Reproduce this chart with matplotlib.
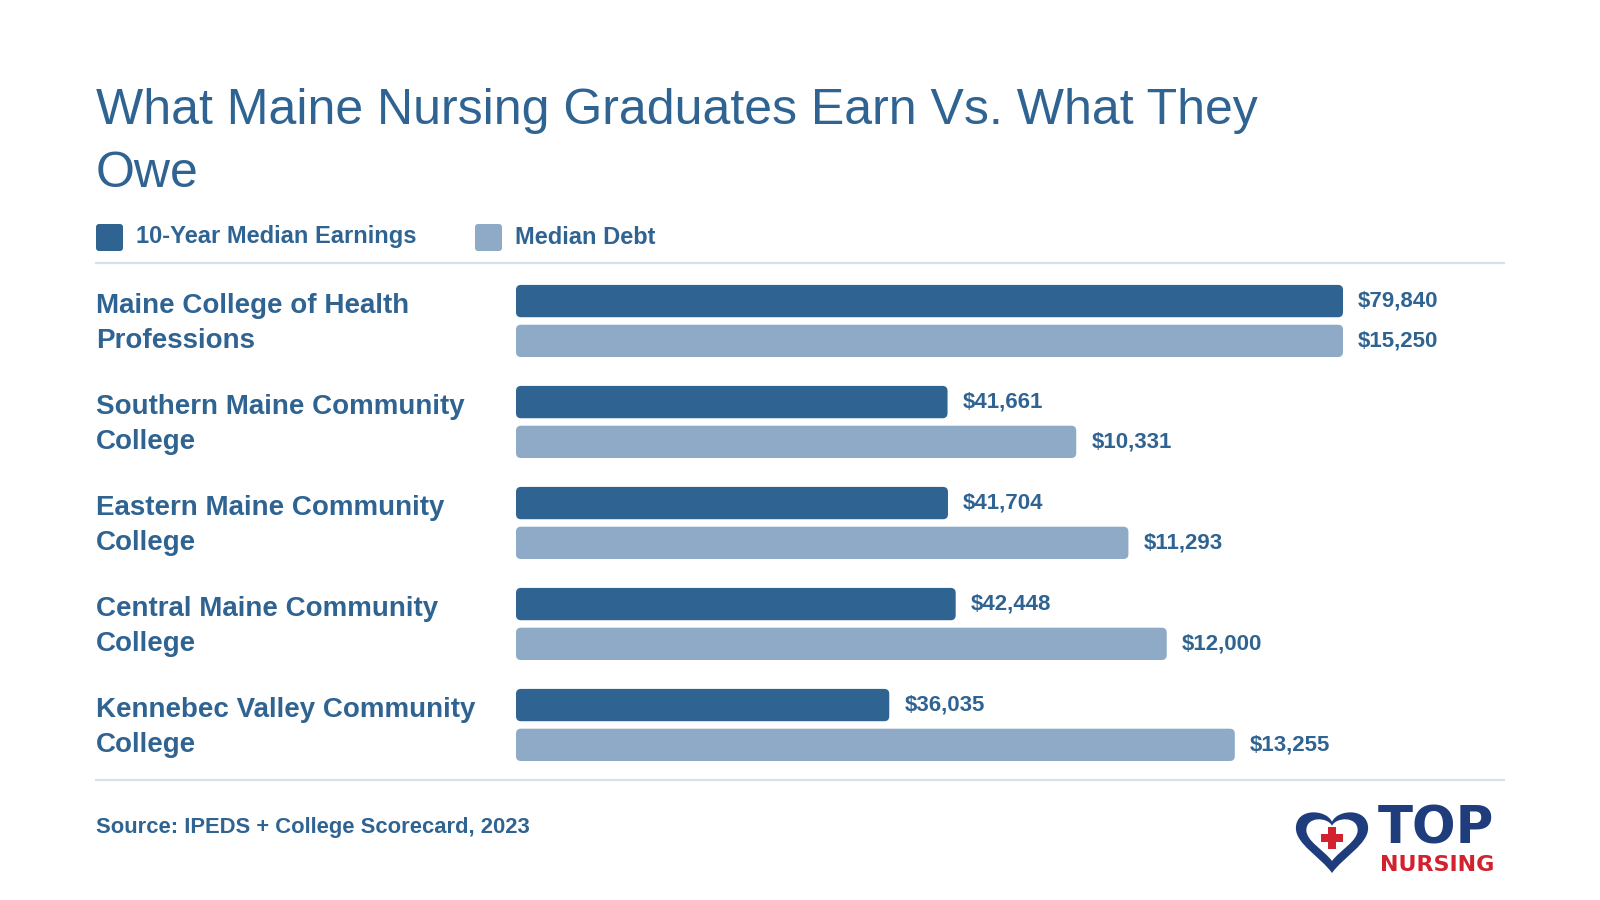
import matplotlib.pyplot as plt
from matplotlib.patches import FancyBboxPatch, PathPatch, Rectangle
from matplotlib.path import Path
from matplotlib.transforms import blended_transform_factory
from matplotlib.lines import Line2D

plt.rcParams['font.family'] = ['Liberation Sans', 'DejaVu Sans']

colleges = [
    "Maine College of Health\nProfessions",
    "Southern Maine Community\nCollege",
    "Eastern Maine Community\nCollege",
    "Central Maine Community\nCollege",
    "Kennebec Valley Community\nCollege",
]
earnings = [79840, 41661, 41704, 42448, 36035]
debt = [15250, 10331, 11293, 12000, 13255]

DARK = '#2f6392'
LIGHT = '#8eaac6'
RULE = '#d7e1ea'
NAVY = '#1f3c7c'
RED = '#d3222f'

W, H = 1600, 900
fig = plt.figure(figsize=(16, 9), dpi=100)
fig.patch.set_facecolor('white')

def fx(px):
    return px / W

def fy(py):
    return 1 - py / H

# bar area (pixel box)
ax_left, ax_right = 516, 1343
ax_top, ax_bottom = 263, 780
ax = fig.add_axes([fx(ax_left), fy(ax_bottom), (ax_right - ax_left) / W, (ax_bottom - ax_top) / H])
ax.set_xlim(0, 1)
ax.set_ylim(4.545, -0.574)
ax.axis('off')

n = len(colleges)
pos = list(range(n))
off = 0.197
bh = 0.32
e_norm = [v / max(earnings) for v in earnings]
d_norm = [v / max(debt) for v in debt]
b1 = ax.barh([p - off for p in pos], e_norm, height=bh, color=DARK, alpha=0)
b2 = ax.barh([p + off for p in pos], d_norm, height=bh, color=LIGHT, alpha=0)

x_px = 1 / (ax_right - ax_left)
y_px = 1 / 101
for bars, col in ((b1, DARK), (b2, LIGHT)):
    for r in bars:
        p = FancyBboxPatch((r.get_x(), r.get_y()), r.get_width(), r.get_height(),
                           boxstyle=f"round,pad=0,rounding_size={5 * x_px}",
                           mutation_aspect=y_px / x_px, facecolor=col, edgecolor='none')
        ax.add_patch(p)

for i in range(n):
    ax.text(e_norm[i] + 15 * x_px, i - off, f"${earnings[i]:,}", va='center', ha='left',
            fontsize=16, fontweight='bold', color=DARK, clip_on=False)
    ax.text(d_norm[i] + 15 * x_px, i + off, f"${debt[i]:,}", va='center', ha='left',
            fontsize=16, fontweight='bold', color=DARK, clip_on=False)

# college labels
tr = blended_transform_factory(fig.transFigure, ax.transData)
for i, name in enumerate(colleges):
    ax.text(fx(96), i + 0.025, name, transform=tr, va='center', ha='left', fontsize=20,
            fontweight='bold', color=DARK, linespacing=1.45)

# title
fig.text(fx(96), fy(124), "What Maine Nursing Graduates Earn Vs. What They",
         fontsize=36, color=DARK, va='baseline', ha='left')
fig.text(fx(96), fy(187), "Owe", fontsize=36, color=DARK, va='baseline', ha='left')

# legend
for sx, tx, col, label in ((96, 136, DARK, "10-Year Median Earnings"),
                           (475, 515, LIGHT, "Median Debt")):
    sq = FancyBboxPatch((fx(sx), fy(251)), 27 / W, 27 / H,
                        boxstyle=f"round,pad=0,rounding_size={3 / W}",
                        mutation_aspect=W / H, facecolor=col, edgecolor='none',
                        transform=fig.transFigure)
    fig.add_artist(sq)
    fig.text(fx(tx), fy(237), label, fontsize=17, fontweight='bold', color=DARK,
             va='center', ha='left')

# rules
for py in (263, 780):
    fig.add_artist(Line2D([fx(96), fx(1504)], [fy(py), fy(py)], color=RULE, lw=1.6,
                          transform=fig.transFigure))

# source
fig.text(fx(96), fy(827), "Source: IPEDS + College Scorecard, 2023", fontsize=15.8,
         fontweight='bold', color=DARK, va='center', ha='left')

# logo: heart outline + cross
def heart(cx, cy, sx, sy):
    pts = [(0, 0.6), (-0.15, 1.0), (-0.95, 1.05), (-0.95, 0.4),
           (-0.95, -0.1), (-0.3, -0.5), (0, -1),
           (0.3, -0.5), (0.95, -0.1), (0.95, 0.4),
           (0.95, 1.05), (0.15, 1.0), (0, 0.6), (0, 0.6)]
    codes = [Path.MOVETO] + [Path.CURVE4] * 12 + [Path.CLOSEPOLY]
    verts = [(fx(cx + px * sx), fy(cy - py * sy)) for px, py in pts]
    return Path(verts, codes)

fig.add_artist(PathPatch(heart(1332, 841, 38, 32), facecolor=NAVY, edgecolor='none',
                         transform=fig.transFigure))
fig.add_artist(PathPatch(heart(1332, 839, 27, 22), facecolor='white', edgecolor='none',
                         transform=fig.transFigure))
fig.add_artist(Rectangle((fx(1321), fy(842)), 22 / W, 8 / H, facecolor=RED,
                         edgecolor='none', transform=fig.transFigure))
fig.add_artist(Rectangle((fx(1328), fy(849)), 8 / W, 22 / H, facecolor=RED,
                         edgecolor='none', transform=fig.transFigure))

fig.text(fx(1378), fy(830), "TOP", fontsize=37, fontweight='bold', color=NAVY,
         ha='left', va='center', family='DejaVu Sans')
fig.text(fx(1380), fy(865), "NURSING", fontsize=16, fontweight='bold', color=RED,
         ha='left', va='center', family='DejaVu Sans')

fig.savefig('out.png', dpi=100, facecolor='white')
